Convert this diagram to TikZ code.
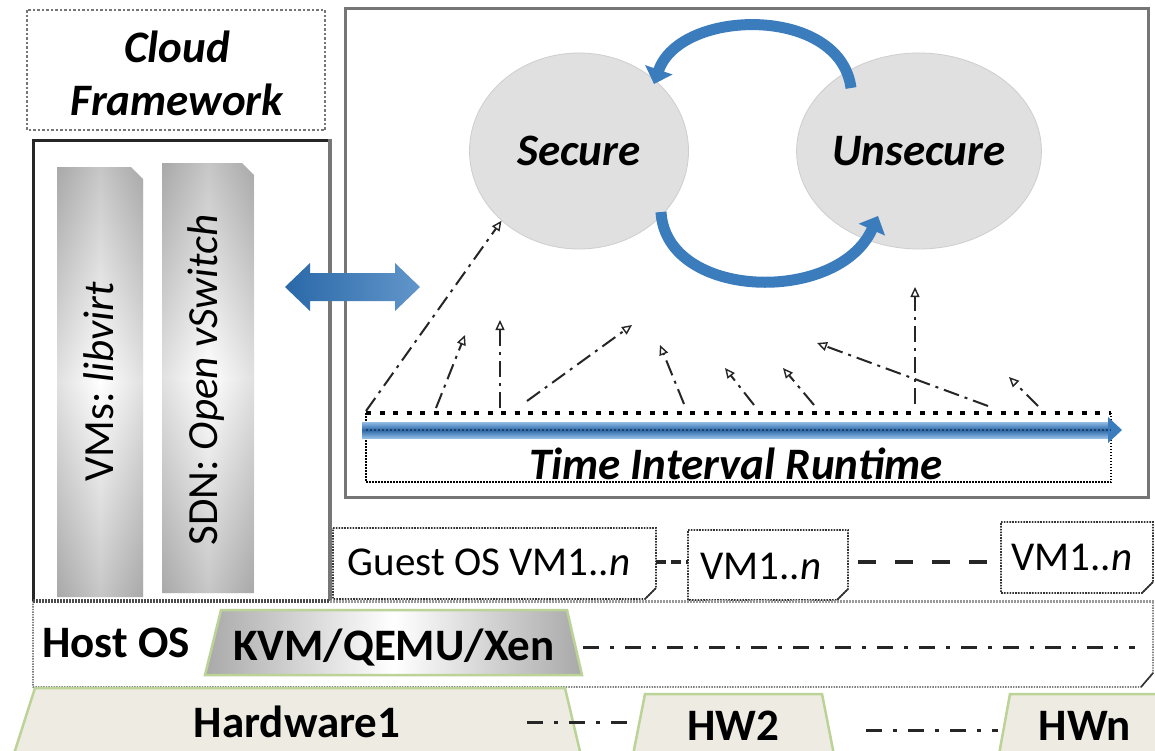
\documentclass[tikz,border=0pt]{standalone}
\usepackage{fontspec}
\setmainfont{Carlito}
\frenchspacing
\usetikzlibrary{arrows.meta,shapes.geometric,shapes.arrows}
\definecolor{bluemain}{HTML}{3B7CBD}
\definecolor{bluelite}{HTML}{93BCE4}
\definecolor{bluedeep}{HTML}{2A68A8}
\definecolor{navy}{HTML}{1F3F66}
\definecolor{framegray}{HTML}{767676}
\definecolor{ellgray}{HTML}{E0E0E0}
\definecolor{greenedge}{HTML}{BCD398}
\definecolor{hwfill}{HTML}{EEECE2}
\definecolor{bardark}{HTML}{A9A9A9}
\newcommand\fbi{\fontsize{45}{50}\selectfont\bfseries\itshape}
\newcommand\fbb{\fontsize{45}{50}\selectfont\bfseries}
\newcommand\frr{\fontsize{41}{48}\selectfont}
\newcommand\frot{\fontsize{43}{48}\selectfont}
\tikzset{
  txt/.style={inner sep=0pt, anchor=base},
  dotframe/.style={draw=framegray, line width=2.5pt, dash pattern=on 2.5pt off 2pt},
  vmbox/.style={draw=black!80, line width=1.6pt, dash pattern=on 1.6pt off 1.2pt},
  fold/.style={draw=black!80, line width=1.6pt},
  tdash/.style={draw=black!85, line width=2pt, dash pattern=on 16pt off 6pt on 3pt off 6pt,
     -{Triangle[open, length=10pt, width=9pt, line width=1.4pt]}},
  ribbon/.style={draw=bluemain, line width=11pt, -{Triangle[length=15pt, width=28pt]}},
  gapdash/.style={draw=black!85, line width=3.5pt},
  hwdash/.style={draw=black!85, line width=3pt, dash pattern=on 16pt off 11pt on 4pt off 11pt},
  hwshape/.style={fill=hwfill, draw=greenedge, line width=2.5pt},
}
\begin{document}
\begin{tikzpicture}[x=1pt,y=-1pt]
\useasboundingbox (0,0) rectangle (1155,750);
\clip (0,0) rectangle (1155,750);
\fill[white] (0,0) rectangle (1155,750);

% ---------- Cloud framework ----------
\draw[dotframe] (27,10) rectangle (325,130);
\node[txt, font=\fbi] (cloud) at (177,62) {Cloud};
\node[txt, font=\fbi] (framework) at (177,115) {Framework};

% ---------- left box with bars ----------
\draw[black!85, line width=3pt] (331,140) -- (33,140) -- (33,601);
\draw[framegray, line width=3.5pt] (330,139) -- (330,601);

\shade[top color=bardark, bottom color=bardark, middle color=white]
  (57,167) -- (131,167) -- (143,179) -- (143,597) -- (57,597) -- cycle;
\shade[left color=bardark, right color=bardark, middle color=white, opacity=0.35]
  (57,167) -- (131,167) -- (143,179) -- (143,597) -- (57,597) -- cycle;
\shade[top color=bardark, bottom color=bardark, middle color=white]
  (162,163) -- (242,163) -- (254,175) -- (254,593) -- (162,593) -- cycle;
\shade[left color=bardark, right color=bardark, middle color=white, opacity=0.35]
  (162,163) -- (242,163) -- (254,175) -- (254,593) -- (162,593) -- cycle;
\node[inner sep=0pt, rotate=90, font=\frot] (vms) at (99,382) {VMs: \textit{libvirt}};
\node[inner sep=0pt, rotate=90, font=\frot] (sdn) at (206,380) {SDN: \textit{Open vSwitch}};

% ---------- right big box ----------
\draw[framegray, line width=3pt] (345,8) rectangle (1148,497);

% double arrow between the two boxes
\coordinate (dblL) at (285,287);
\coordinate (dblR) at (420,287);
\shade[left color=bluedeep, right color=bluemain!80!white]
  (dblL) -- (310,263) -- (310,273) -- (395,273) -- (395,263) -- (dblR)
  -- (395,311) -- (395,301) -- (310,301) -- (310,311) -- cycle;

% states
\node[ellipse, fill=ellgray, draw=ellgray!92!black, line width=0.8pt,
      minimum width=219pt, minimum height=196pt, inner sep=0pt, font=\fbi]
      (sec) at (579,151) {Secure};
\node[ellipse, fill=ellgray, draw=ellgray!92!black, line width=0.8pt,
      minimum width=219pt, minimum height=196pt, inner sep=0pt, font=\fbi]
      (uns) at (919,151) {Unsecure};

\coordinate (utop) at (851,88);
\coordinate (stop) at (654,84);
\coordinate (sbot) at (661,212);
\coordinate (ubot) at (878,216);
\draw[ribbon] (utop) .. controls (840,5) and (680,8) .. (stop);
\draw[ribbon] (sbot) .. controls (666,300) and (838,305) .. (ubot);

% ---------- timeline ----------
\draw[black, line width=1.5pt, dash pattern=on 1.5pt off 1.5pt]
  (366,413) -- (366,482) -- (1111,482) -- (1111,413);
\draw[black, line width=4pt, dash pattern=on 5pt off 8.5pt] (366,413) -- (1111,413);
\shade[top color=bluelite, bottom color=bluelite, middle color=bluedeep]
  (362,422) rectangle (1110,438);
\fill[bluemain] (1108,417) -- (1122,430) -- (1108,443) -- cycle;
\draw[navy, line width=2pt, dash pattern=on 2pt off 2pt] (366,430) -- (1111,430);
\node[txt, font=\fbi] (tir) at (736,479) {Time Interval Runtime};

% event arrows
\coordinate (s1) at (366,411);  \coordinate (e1) at (sec.222);
\coordinate (s2) at (436,408);  \coordinate (e2) at (465,335);
\coordinate (s3) at (500,408);  \coordinate (e3) at (500,320);
\coordinate (s4) at (527,401);  \coordinate (e4) at (632,325);
\coordinate (s5) at (684,404);  \coordinate (e5) at (660,345);
\coordinate (s6) at (754,405);  \coordinate (e6) at (725,368);
\coordinate (s7) at (814,405);  \coordinate (e7) at (783,368);
\coordinate (s8) at (915,404);  \coordinate (e8) at (915,287);
\coordinate (s9) at (988,406);  \coordinate (e9) at (817,343);
\coordinate (s10) at (1038,406); \coordinate (e10) at (1009,377);
\foreach \i in {1,...,10} { \draw[tdash] (s\i) -- (e\i); }

% ---------- guest OS row ----------
\draw[vmbox] (333,528) -- (656,528) -- (656,588) -- (645,599) -- (333,599) -- cycle;
\draw[fold] (656,588) -- (645,599);
\node[txt, font=\frr] (guest) at (489,575) {Guest OS VM1..\textit{n}};

\draw[vmbox] (688,530) -- (848,530) -- (848,589) -- (837,600) -- (688,600) -- cycle;
\draw[fold] (848,589) -- (837,600);
\node[txt, font=\frr] (vm2) at (761,579) {VM1..\textit{n}};

\draw[vmbox] (1001,522) -- (1153,522) -- (1153,582) -- (1142,593) -- (1001,593) -- cycle;
\draw[fold] (1153,582) -- (1142,593);
\node[txt, font=\frr] (vm3) at (1072,570) {VM1..\textit{n}};

\coordinate (g1) at (656,562); \coordinate (g2) at (688,562);
\coordinate (g3) at (858,562); \coordinate (g4) at (990,562);
\draw[gapdash, dash pattern=on 10pt off 5pt] (g1) -- (g2);
\draw[gapdash, dash pattern=on 18pt off 19pt] (g3) -- (g4);

% ---------- host OS row ----------
\draw[black!75, line width=1.4pt, dash pattern=on 1.4pt off 1.2pt]
  (33,601) -- (33,687) -- (1141,687) -- (1153,673) -- (1153,601);
\draw[fold] (1153,673) -- (1141,687);
\draw[black!70, line width=4pt, dash pattern=on 2pt off 1pt] (33,601) -- (330,601);
\draw[black!40, line width=3pt, dash pattern=on 2pt off 1pt] (330,601) -- (1155,601);
\node[txt, font=\fbb] (host) at (116,657) {Host OS};

\shade[left color=bardark, right color=bardark, middle color=white]
  (221,610) -- (567,610) -- (582,675) -- (205,675) -- cycle;
\draw[greenedge, line width=2.5pt] (221,610) -- (567,610) -- (582,675) -- (205,675) -- cycle;
\node[txt, font=\fbb] (kvm) at (394,660) {KVM/QEMU/Xen};
\coordinate (kvmend) at (583,647);
\coordinate (hostend) at (1135,647);
\draw[hwdash] (kvmend) -- (hostend);

% ---------- hardware row ----------
\path[hwshape] (35,688) -- (565,688) -- (582,760) -- (12,760) -- cycle;
\path[hwshape] (645,694) -- (822,694) -- (835,760) -- (632,760) -- cycle;
\path[hwshape] (1010,694) -- (1170,694) -- (1170,760) -- (998,760) -- cycle;
\node[txt, font=\fbb] (hw1) at (297,737) {Hardware1};
\node[txt, font=\fbb] (hw2) at (733,740) {HW2};
\node[txt, font=\fbb] (hwn) at (1085,740) {HWn};
\coordinate (d1) at (527,722); \coordinate (d2) at (637,722);
\coordinate (d3) at (866,730); \coordinate (d4) at (998,730);
\draw[hwdash] (d1) -- (d2);
\draw[hwdash] (d3) -- (d4);
\end{tikzpicture}
\end{document}
